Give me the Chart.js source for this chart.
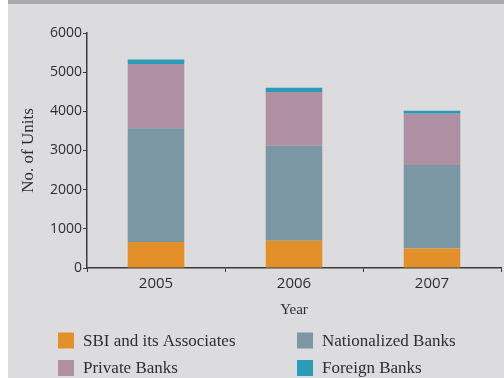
<!DOCTYPE html>
<html>
<head>
<meta charset="utf-8">
<script src="https://cdn.jsdelivr.net/npm/chart.js@4"></script>
<style>
  html, body { margin: 0; padding: 0; background: #fff; }
  #wrap { width: 504px; height: 378px; }
</style>
</head>
<body>
<div id="wrap"><canvas id="unitsChart" width="504" height="378"></canvas></div>
<script>
// Number of units per bank group, by year
const years = ['2005', '2006', '2007'];
const sbiUnits = [665, 695, 500];
const nationalizedUnits = [2900, 2425, 2130];
const privateUnits = [1645, 1375, 1310];
const foreignUnits = [115, 110, 75];

const textColor = '#2e2e2e';
const axisColor = '#3a3a3a';

// page background: white strip on the left, grey panel with a darker band on top
const panelBackground = {
    id: 'panelBackground',
    beforeDraw(chart) {
        const ctx = chart.ctx;
        ctx.save();
        ctx.fillStyle = '#ffffff';
        ctx.fillRect(0, 0, chart.width, chart.height);
        ctx.fillStyle = '#dcdcde';
        ctx.fillRect(8, 0, chart.width - 8, chart.height);
        ctx.fillStyle = '#a9a9a9';
        ctx.fillRect(8, 0, chart.width - 8, 4);
        ctx.restore();
    }
};

// two-column legend under the axis title
const gridLegend = {
    id: 'gridLegend',
    afterDraw(chart) {
        const ctx = chart.ctx;
        const colX = [58, 297];
        const rowY = [340.5, 368];
        ctx.save();
        ctx.font = '17px "Liberation Serif"';
        ctx.textBaseline = 'middle';
        ctx.textAlign = 'left';
        chart.data.datasets.forEach((ds, i) => {
            const x = colX[i % 2];
            const y = rowY[Math.floor(i / 2)];
            ctx.fillStyle = ds.backgroundColor;
            ctx.fillRect(x, y - 8, 16, 16);
            ctx.fillStyle = textColor;
            ctx.fillText(ds.label, x + 25, y + 1);
        });
        ctx.restore();
    }
};

const ctx = document.getElementById('unitsChart').getContext('2d');
new Chart(ctx, {
    type: 'bar',
    data: {
        labels: years,
        datasets: [
            { label: 'SBI and its Associates', data: sbiUnits, backgroundColor: '#e3902a' },
            { label: 'Nationalized Banks', data: nationalizedUnits, backgroundColor: '#7b97a3' },
            { label: 'Private Banks', data: privateUnits, backgroundColor: '#ae90a2' },
            { label: 'Foreign Banks', data: foreignUnits, backgroundColor: '#2b9cb8' }
        ]
    },
    options: {
        responsive: false,
        animation: false,
        layout: { padding: { top: 33, right: 3, bottom: 0, left: 0 } },
        datasets: {
            bar: { barPercentage: 0.41, categoryPercentage: 1 }
        },
        plugins: {
            legend: { display: false },
            tooltip: { enabled: false }
        },
        scales: {
            x: {
                stacked: true,
                afterFit: function(scale) { scale.height = 110; },
                grid: {
                    drawOnChartArea: false,
                    tickLength: 4,
                    tickColor: axisColor
                },
                border: { color: axisColor, width: 1.5 },
                ticks: {
                    color: textColor,
                    padding: 3,
                    font: { family: '"Open Sans"', size: 15 }
                },
                title: {
                    display: true,
                    text: 'Year',
                    color: textColor,
                    font: { family: '"Liberation Serif"', size: 15 },
                    padding: { top: 0, bottom: 59 }
                }
            },
            y: {
                stacked: true,
                min: 0,
                max: 6000,
                afterFit: function(scale) { scale.width = 87; },
                grid: {
                    drawOnChartArea: false,
                    tickLength: 4,
                    tickColor: axisColor
                },
                border: { color: axisColor, width: 1.5 },
                ticks: {
                    stepSize: 1000,
                    color: textColor,
                    padding: 1,
                    font: { family: '"Open Sans"', size: 14 },
                    callback: function(value) { return String(value); }
                },
                title: {
                    display: true,
                    text: 'No. of Units',
                    color: textColor,
                    font: { family: '"Liberation Serif"', size: 17 },
                    padding: { top: 18, bottom: 0 }
                }
            }
        }
    },
    plugins: [panelBackground, gridLegend]
});
</script>
</body>
</html>
